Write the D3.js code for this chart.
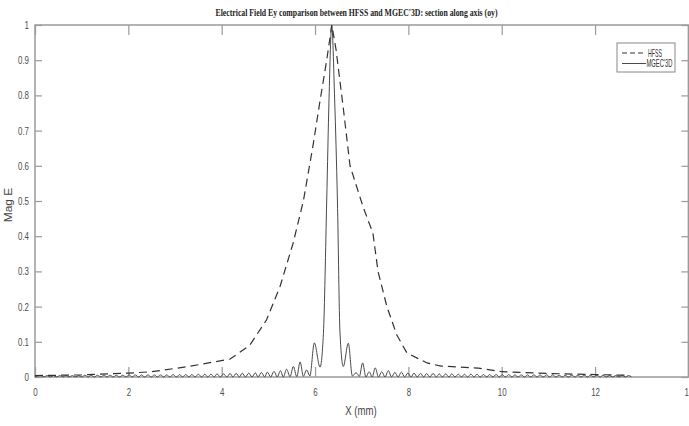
<!DOCTYPE html>
<html><head><meta charset="utf-8">
<script src="https://cdn.jsdelivr.net/npm/d3@7"></script>
<style>body{margin:0;background:#fff;}svg{display:block;}</style>
</head><body>
<script>
// ---- data ----
const xTicks = [0, 2, 4, 6, 8, 10, 12, 14];
const yTicks = [0, 0.1, 0.2, 0.3, 0.4, 0.5, 0.6, 0.7, 0.8, 0.9, 1];
const seriesNames = ["HFSS", "MGEC'3D"];

const hfssX = [0, 1, 2, 2.5, 3.3, 4.18, 4.6, 4.96, 5.25, 5.53, 5.75, 5.96, 6.11, 6.25, 6.36,
  6.45, 6.6, 6.75, 7.03, 7.24, 7.35, 7.54, 7.75, 7.97, 8.4, 8.7, 9.5, 10, 11, 12, 12.66];
const hfssY = [0.004, 0.006, 0.011, 0.015, 0.03, 0.051, 0.09, 0.162, 0.257, 0.38, 0.50, 0.66, 0.787, 0.90, 1.0,
  0.93, 0.77, 0.6, 0.483, 0.409, 0.3, 0.2, 0.12, 0.068, 0.04, 0.031, 0.025, 0.015, 0.01, 0.007, 0.005];

const mgecX = [
  0, 0.12, 0.19, 0.26, 0.33, 0.40, 0.46, 0.53, 0.60, 0.66,
  0.73, 0.80, 0.87, 0.94, 1.00, 1.07, 1.14, 1.20, 1.27, 1.34,
  1.41, 1.48, 1.54, 1.61, 1.68, 1.74, 1.81, 1.88, 1.95, 2.02,
  2.08, 2.15, 2.22, 2.28, 2.35, 2.42, 2.49, 2.56, 2.62, 2.69,
  2.76, 2.82, 2.89, 2.96, 3.03, 3.10, 3.16, 3.23, 3.30, 3.36,
  3.43, 3.50, 3.57, 3.64, 3.70, 3.77, 3.84, 3.90, 3.97, 4.04,
  4.11, 4.18, 4.24, 4.31, 4.38, 4.44, 4.51, 4.58, 4.65, 4.72,
  4.78, 4.85, 4.92, 4.98, 5.05, 5.12, 5.19, 5.26, 5.32, 5.39,
  5.465, 5.535, 5.61, 5.68, 5.75, 5.82, 5.89, 5.985, 6.107, 6.18,
  6.25, 6.30, 6.357, 6.42, 6.48, 6.535, 6.606, 6.713, 6.80, 6.88,
  6.95, 7.02, 7.09, 7.16, 7.225, 7.29, 7.36, 7.43, 7.50, 7.57,
  7.64, 7.71, 7.78, 7.85, 7.92, 7.99, 8.06, 8.12, 8.19, 8.26,
  8.33, 8.39, 8.46, 8.53, 8.60, 8.66, 8.73, 8.80, 8.87, 8.93,
  9.00, 9.07, 9.14, 9.20, 9.27, 9.34, 9.41, 9.47, 9.54, 9.61,
  9.68, 9.74, 9.81, 9.88, 9.95, 10.01, 10.08, 10.15, 10.22, 10.28,
  10.35, 10.42, 10.49, 10.55, 10.62, 10.69, 10.76, 10.82, 10.89, 10.96,
  11.03, 11.09, 11.16, 11.23, 11.30, 11.36, 11.43, 11.50, 11.57, 11.63,
  11.70, 11.77, 11.84, 11.90, 11.97, 12.04, 12.11, 12.17, 12.24, 12.31,
  12.38, 12.44, 12.51, 12.58, 12.65, 12.71, 12.78];
const mgecY = [
  0.001, 0.004, 0, 0.004, 0, 0.004, 0, 0.004, 0, 0.004,
  0, 0.004, 0, 0.004, 0, 0.005, 0, 0.005, 0, 0.005,
  0, 0.005, 0, 0.005, 0, 0.005, 0, 0.005, 0, 0.006,
  0, 0.006, 0, 0.006, 0, 0.006, 0, 0.006, 0, 0.006,
  0, 0.006, 0, 0.007, 0, 0.007, 0, 0.007, 0, 0.007,
  0, 0.008, 0, 0.008, 0, 0.008, 0, 0.009, 0, 0.009,
  0, 0.010, 0, 0.010, 0, 0.011, 0, 0.011, 0, 0.012,
  0, 0.013, 0, 0.014, 0, 0.016, 0, 0.018, 0, 0.022,
  0.001, 0.030, 0.001, 0.043, 0.002, 0.020, 0.003, 0.097, 0.028, 0.124,
  0.50, 0.79, 1.0, 0.79, 0.50, 0.125, 0.03, 0.096, 0.003, 0.012,
  0.002, 0.040, 0, 0.015, 0, 0.026, 0, 0.015, 0, 0.018,
  0, 0.013, 0, 0.014, 0, 0.011, 0, 0.011, 0, 0.010,
  0, 0.010, 0, 0.010, 0, 0.009, 0, 0.009, 0, 0.009,
  0, 0.008, 0, 0.008, 0, 0.008, 0, 0.008, 0, 0.007,
  0, 0.007, 0, 0.007, 0, 0.007, 0, 0.007, 0, 0.006,
  0, 0.006, 0, 0.006, 0, 0.006, 0, 0.006, 0, 0.006,
  0, 0.006, 0, 0.005, 0, 0.005, 0, 0.005, 0, 0.005,
  0, 0.005, 0, 0.005, 0, 0.005, 0, 0.005, 0, 0.004,
  0, 0.004, 0, 0.004, 0, 0.004, 0.001];

// ---- drawing ----
const W = 689, H = 426;
const L = 35, R = 688.4, T = 25, B = 377;
const svg = d3.select("body").append("svg").attr("width", W).attr("height", H)
  .style("font-family", "'Liberation Sans', Arial, sans-serif");

const x = d3.scaleLinear().domain([0, 14]).range([L, R]);
const y = d3.scaleLinear().domain([0, 1]).range([B, T]);

svg.append("defs").append("clipPath").attr("id", "clip")
  .append("rect").attr("x", L).attr("y", T - 1).attr("width", R - L).attr("height", B - T + 2);

const axisColor = "#9a9a9a", textColor = "#4d4d4d";
const sx = 0.72;

function styleAxis(g) {
  g.select(".domain").remove();
  g.selectAll(".tick line").attr("stroke", axisColor).attr("stroke-width", 1.2);
  g.selectAll("text").attr("fill", textColor).style("font-size", "11px");
}

// bottom
const gB = svg.append("g").attr("transform", `translate(0,${B})`)
  .call(d3.axisBottom(x).tickValues(xTicks).tickSizeInner(-10).tickSizeOuter(0).tickPadding(11).tickFormat(d3.format("d")));
styleAxis(gB);
gB.selectAll("text").attr("transform", `scale(${sx},1)`);
// top
const gT = svg.append("g").attr("transform", `translate(0,${T})`)
  .call(d3.axisTop(x).tickValues(xTicks).tickSizeInner(-10).tickSizeOuter(0).tickFormat(""));
styleAxis(gT);
// left
const gL = svg.append("g").attr("transform", `translate(${L},0)`)
  .call(d3.axisLeft(y).tickValues(yTicks).tickSizeInner(-7).tickSizeOuter(0).tickPadding(6).tickFormat(d => d3.format("")(+d.toFixed(1))));
styleAxis(gL);
gL.selectAll("text").attr("transform", `scale(${sx},1)`).attr("x", -6 / sx);
// right
const gR = svg.append("g").attr("transform", `translate(${R},0)`)
  .call(d3.axisRight(y).tickValues(yTicks).tickSizeInner(-7).tickSizeOuter(0).tickFormat(""));
styleAxis(gR);

// frame
svg.append("rect").attr("x", L).attr("y", T).attr("width", R - L).attr("height", B - T)
  .attr("fill", "none").attr("stroke", axisColor).attr("stroke-width", 1.5);

// series
const plot = svg.append("g").attr("clip-path", "url(#clip)");
const hfss = hfssX.map((v, i) => [v, hfssY[i]]);
const mgec = mgecX.map((v, i) => [v, mgecY[i]]);

plot.append("path").datum(mgec)
  .attr("d", d3.line().x(d => x(d[0])).y(d => y(d[1])).curve(d3.curveMonotoneX))
  .attr("fill", "none").attr("stroke", "#4a4a4a").attr("stroke-width", 1);
plot.append("path").datum(hfss)
  .attr("d", d3.line().x(d => x(d[0])).y(d => y(d[1])))
  .attr("fill", "none").attr("stroke", "#333").attr("stroke-width", 1.2).attr("stroke-dasharray", "8,5");

// title
svg.append("text").attr("x", 356.5).attr("y", 16).attr("text-anchor", "middle")
  .attr("textLength", 282).attr("lengthAdjust", "spacingAndGlyphs")
  .style("font-family", "'Liberation Serif', 'Times New Roman', serif").style("font-weight", "bold").style("font-size", "10px")
  .attr("fill", "#222")
  .text("Electrical Field Ey comparison between HFSS and MGEC'3D: section along axis (oy)");

// axis labels
svg.append("text").attr("transform", `translate(${12},${205}) rotate(-90) scale(1,0.85)`)
  .attr("text-anchor", "middle").style("font-size", "12px").attr("fill", "#444").text("Mag E");
svg.append("text").attr("transform", `translate(${361},${415}) scale(0.8,1)`)
  .attr("text-anchor", "middle").style("font-size", "12px").attr("fill", "#444").text("X (mm)");

// legend
const lg = svg.append("g");
lg.append("rect").attr("x", 617).attr("y", 43).attr("width", 58).attr("height", 29)
  .attr("fill", "#fff").attr("stroke", "#888").attr("stroke-width", 1);
lg.append("line").attr("x1", 622).attr("x2", 646).attr("y1", 53).attr("y2", 53)
  .attr("stroke", "#333").attr("stroke-width", 1.2).attr("stroke-dasharray", "5,3");
lg.append("line").attr("x1", 622).attr("x2", 646).attr("y1", 63.5).attr("y2", 63.5)
  .attr("stroke", "#4a4a4a").attr("stroke-width", 1);
lg.append("text").attr("transform", "translate(648,56.5) scale(0.52,1)")
  .style("font-size", "10px").attr("fill", "#333").text(seriesNames[0]);
lg.append("text").attr("transform", "translate(646.5,67) scale(0.58,1)")
  .style("font-size", "10px").attr("fill", "#333").text(seriesNames[1]);
</script>
</body></html>
